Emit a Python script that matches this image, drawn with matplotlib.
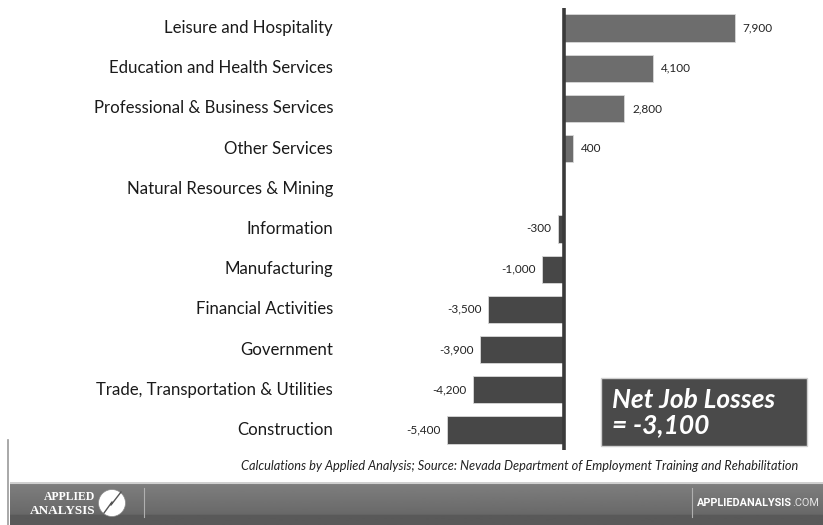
import matplotlib
matplotlib.use("Agg")
import matplotlib.pyplot as plt
import numpy as np
from matplotlib.patches import Rectangle, Ellipse

plt.rcParams["font.family"] = ["Lato", "DejaVu Sans"]

W, H = 823, 525

SECTORS = [
    "Leisure and Hospitality",
    "Education and Health Services",
    "Professional & Business Services",
    "Other Services",
    "Natural Resources & Mining",
    "Information",
    "Manufacturing",
    "Financial Activities",
    "Government",
    "Trade, Transportation & Utilities",
    "Construction",
]
CHANGES = [7900, 4100, 2800, 400, 0, -300, -1000, -3500, -3900, -4200, -5400]
NET_LABEL = "Net Job Losses\n= -3,100"
SOURCE = ("Calculations by Applied Analysis; Source: Nevada Department of "
          "Employment Training and Rehabilitation")

POS_COLOR = "#6d6d6d"
NEG_COLOR = "#474747"


def px(x, y, w=0, h=0):
    # pixel box (top-left origin) -> figure fraction rect
    return [x / W, 1 - (y + h) / H, w / W, h / H]


def fy(y):
    return 1 - y / H


fig = plt.figure(figsize=(W / 100, H / 100), dpi=100)
fig.patch.set_facecolor("white")

# main chart: zero line sits at x=564 px
ax = fig.add_axes(px(380, 8, 420, 442))
scale = 0.0216  # px per job
ax.set_xlim(-(564 - 380) / scale, (800 - 564) / scale)
ax.set_ylim(len(SECTORS) - 0.5, -0.5)

ypos = np.arange(len(SECTORS))
colors = [POS_COLOR if v > 0 else NEG_COLOR for v in CHANGES]
ax.barh(ypos, CHANGES, height=0.68, color=colors, edgecolor="#d8d8d8", linewidth=0.6)
ax.axvline(0, color="#3a3a3a", linewidth=2.6)

for y, v in zip(ypos, CHANGES):
    if v == 0:
        continue
    if v > 0:
        ax.text(v + 380, y, f"{v:,}", ha="left", va="center", fontsize=8.5, color="#222")
    else:
        ax.text(v - 300, y, f"{v:,}", ha="right", va="center", fontsize=8.5, color="#222")

ax.set_yticks([])
ax.set_xticks([])
for s in ax.spines.values():
    s.set_visible(False)
ax.patch.set_alpha(0)

# category labels, right aligned at x=333 px
for y, name in zip(ypos, SECTORS):
    fig.text(333 / W, fy(28 + y * 40.2), name, ha="right", va="center",
             fontsize=12.1, color="#1a1a1a")

# net job losses box
fig.patches.append(Rectangle((601 / W, fy(446)), 206 / W, 68 / H,
                             transform=fig.transFigure, facecolor="#4a4a4a",
                             edgecolor="#cfcfcf", linewidth=1.0))
fig.text(612 / W, fy(413), NET_LABEL, ha="left", va="center", fontsize=19,
         color="white", fontweight="bold", style="italic", linespacing=1.05)

# source note
fig.text(798 / W, fy(466), SOURCE, ha="right", va="center", fontsize=9.2,
         style="italic", color="#222")

# left thin rule
fig.add_artist(plt.Line2D([8 / W, 8 / W], [0, fy(440)], transform=fig.transFigure,
                          color="#9a9a9a", linewidth=1.2))

# footer band with vertical gradient
fax = fig.add_axes(px(10, 482, 813, 43))
grad = np.concatenate([np.linspace(0.50, 0.41, 38), np.full(12, 0.35)]).reshape(-1, 1)
fax.imshow(grad, aspect="auto", cmap="gray", vmin=0, vmax=1, extent=[0, 1, 0, 1])
fax.plot([0, 1], [0.985, 0.985], color="#d0d0d0", linewidth=1.5)
fax.set_xlim(0, 1)
fax.set_ylim(0, 1)
fax.axis("off")

for sx in (144, 692):
    fig.add_artist(plt.Line2D([sx / W, sx / W], [fy(517), fy(488)],
                              transform=fig.transFigure, color="#b0b0b0", linewidth=0.8))

fig.text(95 / W, fy(497), "APPLIED", ha="right", va="center", fontsize=8.5,
         color="white", fontweight="bold", family=["Liberation Serif"])
fig.text(95 / W, fy(511), "ANALYSIS", ha="right", va="center", fontsize=9.5,
         color="white", fontweight="bold", family=["Liberation Serif"])
fig.patches.append(Ellipse((112 / W, fy(503)), 27 / W, 27 / H, transform=fig.transFigure,
                           facecolor="white", edgecolor="#888", linewidth=0.5))
fig.add_artist(plt.Line2D([104 / W, 112 / W, 111 / W, 121 / W],
                          [fy(513), fy(502), fy(505), fy(492)],
                          transform=fig.transFigure, color="#555", linewidth=1.0))

site = fig.text(697 / W, fy(503), "APPLIEDANALYSIS", ha="left", va="center", fontsize=7.8,
                color="white", fontweight="bold", family=["Roboto", "DejaVu Sans"])
fig.canvas.draw()
bb = site.get_window_extent()
fig.text(bb.x1 / W, fy(503), ".COM", ha="left", va="center", fontsize=7.8,
         color="#e4e4e4", family=["Roboto", "DejaVu Sans"])

fig.savefig("out.png", dpi=100)
